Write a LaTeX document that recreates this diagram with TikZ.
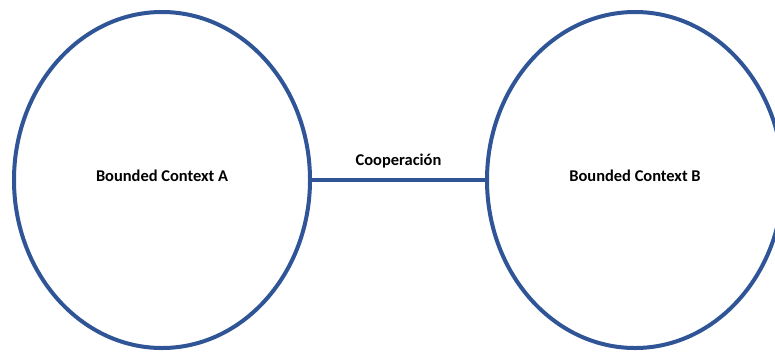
\documentclass[tikz,border=0pt]{standalone}
\usepackage{fontspec}
\setmainfont{Carlito}
\usetikzlibrary{shapes.geometric}
\definecolor{ctxblue}{HTML}{2F5597}
\def\ctxfont{\fontsize{16.5}{19}\selectfont\bfseries}
\tikzset{
  context/.style={ellipse,draw=ctxblue,line width=4bp,inner sep=0pt,
    minimum width=296bp,minimum height=336bp,font=\ctxfont,text depth=8bp},
  link/.style={draw=ctxblue,line width=4bp}
}

\begin{document}
\begin{tikzpicture}[x=1bp,y=-1bp]
    \useasboundingbox (0,0) rectangle (775,354);
    \node[context] (ctxA) at (162,180) {Bounded Context A};
    \node[context] (ctxB) at (635,180) {Bounded Context B};
    \draw[link] (ctxA.east) -- node[above=7bp,font=\ctxfont,text=black] (coop) {Cooperación} (ctxB.west);
\end{tikzpicture}
\end{document}
